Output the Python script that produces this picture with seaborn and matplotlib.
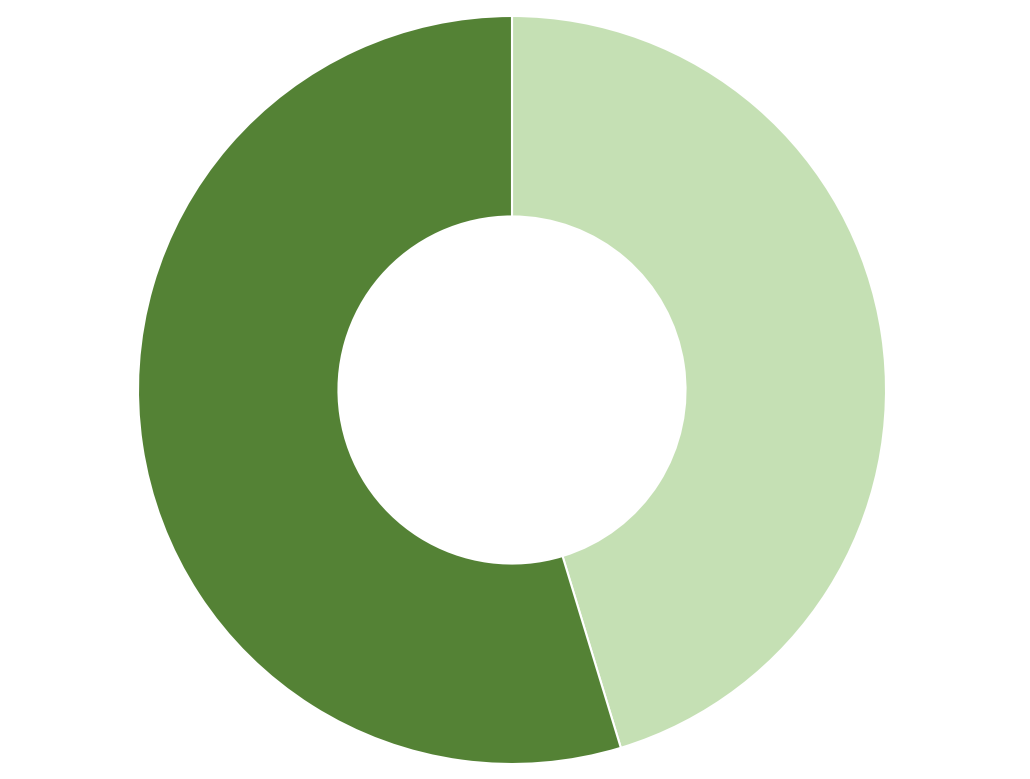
import matplotlib
matplotlib.use("Agg")
import matplotlib.pyplot as plt
import seaborn as sns

# Datos del gráfico de anillo
categorias = ["Serie A", "Serie B"]
valores = [45.3, 54.7]
colores = ["#C5E0B4", "#548235"]  # verde claro y verde oscuro

sns.set_theme(style="white")

fig = plt.figure(figsize=(10.3, 7.79), dpi=100)
fig.patch.set_facecolor("white")

# Ejes colocados para que el anillo ocupe la misma zona que la referencia
ax = fig.add_axes([138 / 1030, 15 / 779, 748 / 1030, 748 / 779])
ax.pie(valores, labels=None, colors=colores, startangle=90, counterclock=False,
       radius=1.0,
       wedgeprops=dict(width=0.536, edgecolor="white", linewidth=1.5))
ax.set_xlim(-1, 1)
ax.set_ylim(-1, 1)
ax.set_aspect("equal")
ax.axis("off")

plt.savefig("out.png", dpi=100, facecolor="white")
plt.close()
